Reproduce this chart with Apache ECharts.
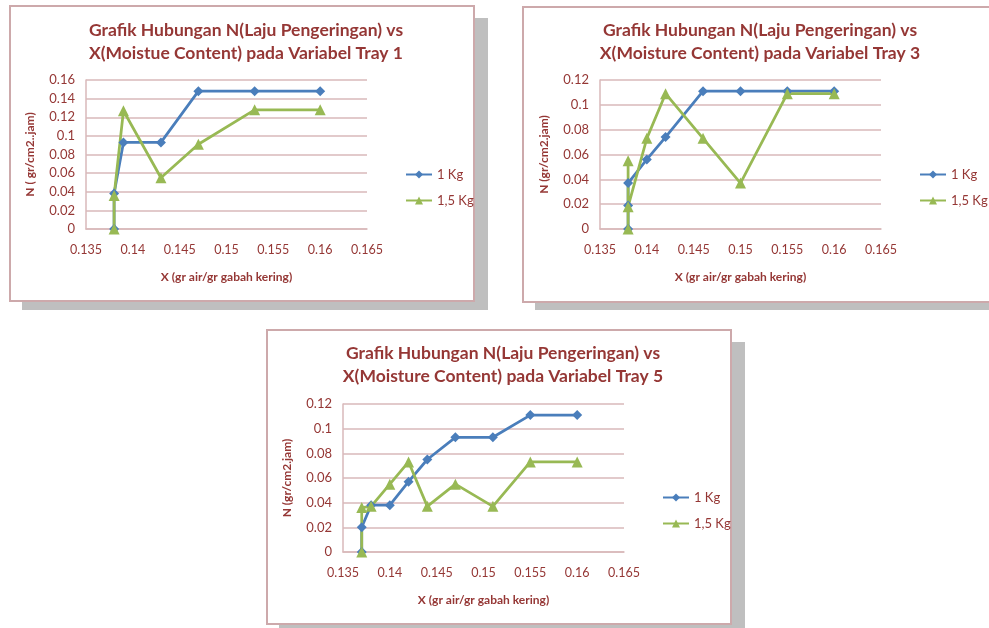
<!DOCTYPE html>
<html><head><meta charset="utf-8">
<script src="https://cdn.jsdelivr.net/npm/echarts@6/dist/echarts.min.js"></script>
<style>
html,body{margin:0;padding:0;background:#fff;width:989px;height:628px;overflow:hidden;position:relative;}
.sh{position:absolute;background:#bfbfbf;}
.fr{position:absolute;background:#fff;border:2px solid #cda9ab;box-sizing:border-box;}
#c{position:absolute;left:0;top:0;width:989px;height:628px;}
</style></head>
<body>
<div class="sh" style="left:22px;top:18px;width:466px;height:292px"></div>
<div class="fr" style="left:9px;top:5px;width:466px;height:297px"></div>
<div class="sh" style="left:535px;top:19px;width:460px;height:291px"></div>
<div class="fr" style="left:522px;top:6px;width:470px;height:297px"></div>
<div class="sh" style="left:279px;top:342px;width:466px;height:300px"></div>
<div class="fr" style="left:266px;top:329px;width:466px;height:296px"></div>
<div id="c"></div>
<script>
// ---- data ----
var seriesNames = ['1 Kg', '1,5 Kg'];
var titles = [
  'Grafik Hubungan N(Laju Pengeringan) vs\nX(Moistue Content) pada Variabel Tray 1',
  'Grafik Hubungan N(Laju Pengeringan) vs\nX(Moisture Content) pada Variabel Tray 3',
  'Grafik Hubungan N(Laju Pengeringan) vs\nX(Moisture Content) pada Variabel Tray 5'
];
var yNames = ['N ( gr/cm2..jam)', 'N (gr/cm2.jam)', 'N (gr/cm2.jam)'];
var xName = 'X (gr air/gr gabah kering)';
var yMax = [0.16, 0.12, 0.12];

var tray1X1 = [0.138, 0.138, 0.139, 0.143, 0.147, 0.153, 0.160];
var tray1Y1 = [0, 0.038, 0.093, 0.093, 0.148, 0.148, 0.148];
var tray1X2 = [0.138, 0.138, 0.139, 0.143, 0.147, 0.153, 0.160];
var tray1Y2 = [0, 0.036, 0.127, 0.055, 0.091, 0.128, 0.128];

var tray3X1 = [0.138, 0.138, 0.138, 0.140, 0.142, 0.146, 0.150, 0.155, 0.160];
var tray3Y1 = [0, 0.019, 0.037, 0.056, 0.074, 0.111, 0.111, 0.111, 0.111];
var tray3X2 = [0.138, 0.138, 0.138, 0.140, 0.142, 0.146, 0.150, 0.155, 0.160];
var tray3Y2 = [0, 0.055, 0.018, 0.073, 0.109, 0.073, 0.037, 0.109, 0.109];

var tray5X1 = [0.137, 0.137, 0.138, 0.140, 0.142, 0.144, 0.147, 0.151, 0.155, 0.160];
var tray5Y1 = [0, 0.020, 0.038, 0.038, 0.057, 0.075, 0.093, 0.093, 0.111, 0.111];
var tray5X2 = [0.137, 0.137, 0.138, 0.140, 0.142, 0.144, 0.147, 0.151, 0.155, 0.160];
var tray5Y2 = [0, 0.036, 0.037, 0.055, 0.073, 0.037, 0.055, 0.037, 0.073, 0.073];

function zip(xs, ys) { return xs.map(function (x, i) { return [x, ys[i]]; }); }
var sets = [
  [zip(tray1X1, tray1Y1), zip(tray1X2, tray1Y2)],
  [zip(tray3X1, tray3Y1), zip(tray3X2, tray3Y2)],
  [zip(tray5X1, tray5Y1), zip(tray5X2, tray5Y2)]
];

// ---- layout ----
var RED = '#953735', GRID = '#d9b9ba', BLUE = '#4a7ebb', GREEN = '#98b954';
var FONT = 'Lato';
var L = [
  {gl: 86, gt: 80, gw: 281, gh: 149, tx: 241, ty: 14, lx: 400, ly: 163},
  {gl: 600, gt: 80, gw: 281, gh: 149, tx: 755, ty: 14, lx: 914, ly: 163},
  {gl: 343, gt: 404, gw: 281, gh: 148, tx: 498, ty: 337, lx: 657, ly: 486}
];

var option = {animation: false, title: [], grid: [], xAxis: [], yAxis: [], legend: [], series: []};
L.forEach(function (p, i) {
  option.title.push({text: titles[i], left: p.tx, top: p.ty, textAlign: 'center',
    textStyle: {fontFamily: FONT, fontWeight: 'bold', fontSize: 17.5, color: RED, lineHeight: 23}});
  option.grid.push({left: p.gl, top: p.gt, width: p.gw, height: p.gh});
  option.xAxis.push({type: 'value', gridIndex: i, min: 0.135, max: 0.165, interval: 0.005,
    name: xName, nameLocation: 'middle', nameGap: 42,
    nameTextStyle: {fontFamily: FONT, fontWeight: 'bold', fontSize: 12, color: RED},
    axisLine: {show: true, lineStyle: {color: GRID, width: 1.5}}, axisTick: {show: false},
    splitLine: {show: false},
    axisLabel: {fontFamily: FONT, fontSize: 12.5, color: RED, margin: 14,
      formatter: function (v) { return String(+v.toFixed(3)); }}});
  option.yAxis.push({type: 'value', gridIndex: i, min: 0, max: yMax[i], interval: 0.02,
    name: yNames[i], nameLocation: 'middle', nameGap: 50, nameRotate: 90,
    nameTextStyle: {fontFamily: FONT, fontWeight: 'bold', fontSize: 12, color: RED},
    axisLine: {show: true, lineStyle: {color: GRID, width: 1.5}}, axisTick: {show: false},
    splitLine: {show: true, lineStyle: {color: GRID, width: 1.5}},
    axisLabel: {fontFamily: FONT, fontSize: 13, color: RED, margin: 11,
      formatter: function (v) { return String(+v.toFixed(2)); }}});
  option.legend.push({orient: 'vertical', left: p.lx, top: p.ly, itemWidth: 26, itemHeight: 10, itemGap: 13,
    data: seriesNames, selectedMode: false,
    textStyle: {fontFamily: FONT, fontSize: 13, color: RED}});
  option.series.push({name: seriesNames[0], type: 'line', xAxisIndex: i, yAxisIndex: i, data: sets[i][0],
    symbol: 'diamond', symbolSize: 10, lineStyle: {color: BLUE, width: 2.75},
    itemStyle: {color: BLUE}, z: 3});
  option.series.push({name: seriesNames[1], type: 'line', xAxisIndex: i, yAxisIndex: i, data: sets[i][1],
    symbol: 'triangle', symbolSize: 11, lineStyle: {color: GREEN, width: 2.75},
    itemStyle: {color: GREEN}, z: 3});
});
var chart = echarts.init(document.getElementById('c'), null, {renderer: 'canvas'});
chart.setOption(option);
</script>
</body></html>
